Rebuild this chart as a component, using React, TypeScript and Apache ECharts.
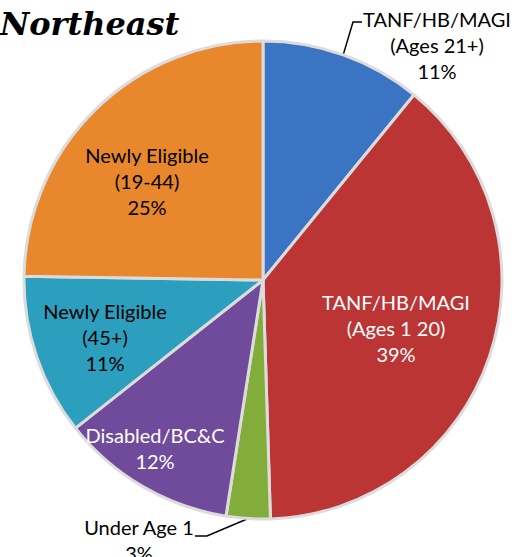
import React, { useEffect, useRef } from "react";
import * as echarts from "echarts";

const categories = [
  "TANF/HB/MAGI\n(Ages 21+)",
  "TANF/HB/MAGI\n(Ages 1 20)",
  "Under Age 1",
  "Disabled/BC&C",
  "Newly Eligible\n(45+)",
  "Newly Eligible\n(19-44)",
];
const values = [11, 39, 3, 12, 11, 25];
const colors = ["#3b74c2", "#bb3535", "#82ad3b", "#704b9c", "#2b9fbd", "#e8872b"];
const labelColors = ["#000", "#fff", "#000", "#fff", "#000", "#000"];
const insideLabel = [false, true, false, true, true, true];

// label anchor positions (layout, px)
const labelPos: [number, number][] = [
  [437, 45],
  [396, 328],
  [139, 540],
  [155, 448],
  [105, 337],
  [147, 181],
];
// elbow points of the leader lines for outside labels (layout, px)
const leaderPts: Record<number, [number, number][]> = {
  0: [[353, 22], [362, 22]],
  2: [[207, 536], [195, 536]],
};

export default function App() {
  const ref = useRef<HTMLDivElement>(null);
  useEffect(() => {
    document.body.style.margin = "0";
    const chart = echarts.init(ref.current!, null, { renderer: "svg" });
    const data = categories.map((name, i) => ({
      name,
      value: values[i],
      itemStyle: { color: colors[i] },
      label: {
        position: insideLabel[i] ? "inside" : "outside",
        color: labelColors[i],
      },
      labelLine: { show: !insideLabel[i] },
    }));
    chart.setOption({
      animation: false,
      title: {
        text: "Northeast",
        left: -5,
        top: 3,
        textStyle: {
          fontFamily: "DejaVu Serif",
          fontStyle: "italic",
          fontWeight: "bold",
          fontSize: 32,
          color: "#000",
        },
      },
      series: [
        {
          type: "pie",
          center: [263, 280],
          radius: 239,
          startAngle: 90,
          clockwise: true,
          avoidLabelOverlap: false,
          data,
          itemStyle: {
            borderColor: "#dcdcdc",
            borderWidth: 3,
          },
          label: {
            formatter: (p: any) => `${p.name}\n${p.value}%`,
            fontFamily: "Lato",
            fontSize: 20,
            lineHeight: 26,
            align: "center",
          },
          labelLine: {
            show: true,
            lineStyle: { color: "#000", width: 1.5 },
          },
          labelLayout: (params: any) => {
            const i = params.dataIndex;
            const out: any = {
              x: labelPos[i][0],
              y: labelPos[i][1],
              align: "center",
              verticalAlign: "middle",
            };
            if (leaderPts[i] && params.labelLinePoints) {
              out.labelLinePoints = [
                params.labelLinePoints[0],
                leaderPts[i][0],
                leaderPts[i][1],
              ];
            }
            return out;
          },
        },
      ],
    });
    return () => chart.dispose();
  }, []);
  return <div ref={ref} style={{ width: 518, height: 557 }} />;
}
